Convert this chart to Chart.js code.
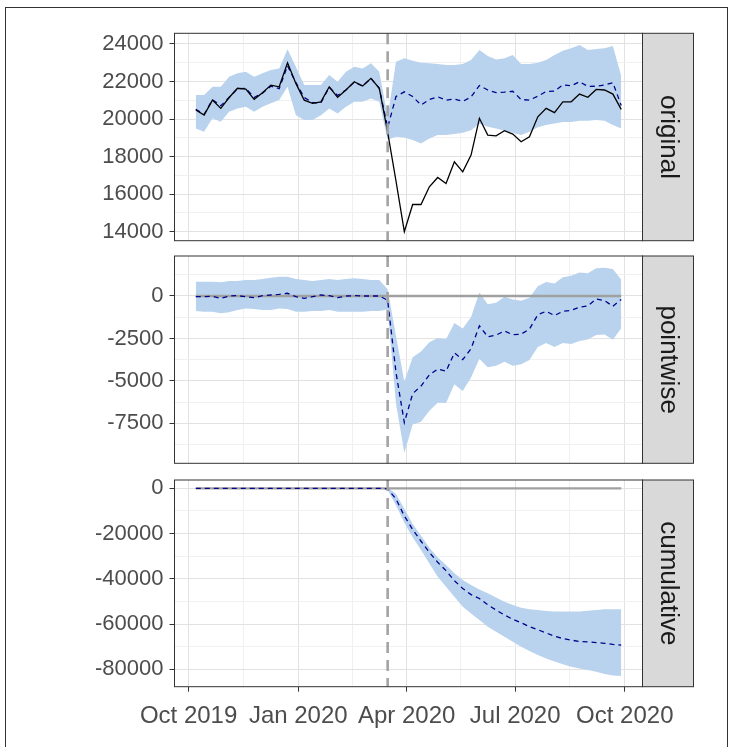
<!DOCTYPE html>
<html>
<head>
<meta charset="utf-8">
<script src="https://cdn.jsdelivr.net/npm/chart.js@4.4.1/dist/chart.umd.min.js"></script>
<style>
body { margin: 0; background: #fff; }
#frame { position: absolute; left: 5px; top: 7px; width: 723px; height: 770px; border: 1px solid #333; box-sizing: border-box; }
.panel { position: absolute; left: 0; width: 733px; }
</style>
</head>
<body>
<div id="frame"></div>
<div class="panel" style="top:0;height:250px"><canvas id="c1" width="733" height="250"></canvas></div>
<div class="panel" style="top:250px;height:220px"><canvas id="c2" width="733" height="220"></canvas></div>
<div class="panel" style="top:470px;height:277px"><canvas id="c3" width="733" height="277"></canvas></div>
<script>
// weekly series, first week starts 2019-10-07
var weekStart = '2019-10-07';
var intervention = '2020-03-16';

var observed = [20480, 20210, 21010, 20570, 21150, 21640, 21600, 21050, 21400, 21810, 21720, 23000,
	21900, 21010, 20840, 20920, 21720, 21160, 21550, 21990, 21760, 22170, 21640,
	19300, 16700, 14000, 15450, 15450, 16390, 16890, 16570, 17720, 17190, 18080, 20040, 19150,
	19110, 19380, 19200, 18790, 19060, 20120, 20570, 20340, 20920, 20920, 21330, 21160, 21580,
	21550, 21330, 20520];
var predicted = [20520, 20250, 21030, 20710, 21150, 21620, 21640, 21150, 21380, 21750, 21620, 22840,
	21940, 21150, 20880, 20860, 21700, 21260, 21550, 21970, 21760, 22170, 21640,
	19550, 21200, 21450, 21200, 20750, 21040, 21190, 21000, 21070, 20940, 21180, 21790, 21550,
	21410, 21440, 21480, 21040, 21010, 21220, 21470, 21490, 21820, 21770, 21990, 21740, 21750,
	21820, 21940, 20720];
var predLower = [19500, 19320, 20040, 19860, 20390, 20570, 20660, 20390, 20660, 20840, 21010, 21720,
	20210, 19950, 19950, 20210, 20570, 20300, 20660, 20920, 20920, 21100, 20920,
	18900, 19060, 19020, 18880, 18700, 18970, 19150, 19150, 19200, 19270, 19410, 19770, 19590,
	19500, 19380, 19270, 19150, 19320, 19560, 19680, 19770, 19840, 19840, 19910, 19910, 19950,
	19910, 19680, 19500];
var predUpper = [21280, 21280, 21720, 21720, 22260, 22440, 22520, 22260, 22440, 22610, 22700, 23720,
	22790, 21810, 21810, 21810, 22350, 21990, 22520, 22790, 22700, 22970, 22520,
	20100, 23060, 23240, 23110, 23000, 22970, 22940, 22880, 22880, 22940, 23150, 23680, 23360,
	23180, 23240, 23410, 22930, 22930, 23000, 23150, 23410, 23640, 23770, 23950, 23680, 23730,
	23770, 23890, 22300];

var pointEffect = [-40, -40, -20, -140, 0, 20, -40, -100, 20, 60, 100, 160,
	-40, -140, -40, 60, 20, -100, 0, 20, 0, 0, 0,
	-250, -4500, -7450, -5750, -5300, -4650, -4300, -4430, -3350, -3750, -3100, -1750, -2400,
	-2300, -2060, -2280, -2250, -1950, -1100, -900, -1150, -900, -850, -660, -580, -170,
	-270, -610, -200];
var pointLower = [-880, -920, -920, -1020, -960, -830, -730, -760, -830, -830, -730, -760,
	-920, -920, -880, -880, -830, -920, -920, -920, -920, -880, -880,
	-800, -6350, -9250, -7570, -7400, -6750, -6280, -6300, -5200, -5600, -4800, -3700, -4190,
	-4110, -3870, -4100, -4020, -3770, -3010, -2760, -3010, -2770, -2820, -2650, -2560, -2300,
	-2260, -2580, -1900];
var pointUpper = [840, 840, 840, 810, 880, 880, 940, 940, 1000, 1080, 1140, 1140,
	1000, 940, 880, 940, 1000, 940, 1000, 1040, 1000, 940, 940,
	400, -2350, -5030, -3600, -3270, -2730, -2470, -2540, -1590, -1910, -1230, 200, -490,
	-400, -40, -200, -280, -100, 580, 820, 730, 1110, 1190, 1380, 1340, 1630,
	1660, 1590, 950];

var cumEffect = [0, 0, 0, 0, 0, 0, 0, 0, 0, 0, 0, 0, 0, 0, 0, 0, 0, 0, 0, 0, 0, 0, 0,
	-250, -4750, -12200, -18200, -23400, -28300, -32700, -36400, -40800, -44300, -47000, -48700, -51500,
	-53800, -56000, -57900, -59400, -61200, -62500, -63900, -65400, -66400, -67100, -67700, -67900, -68200,
	-68500, -69000, -69300];
var cumLower = [0, 0, 0, 0, 0, 0, 0, 0, 0, 0, 0, 0, 0, 0, 0, 0, 0, 0, 0, 0, 0, 0, 0,
	-800, -7500, -15200, -21600, -27300, -33200, -39100, -43500, -47900, -52300, -55300, -58200, -61200,
	-63400, -65600, -67800, -70000, -71900, -73700, -75200, -76600, -77800, -78900, -79700, -80300, -81100,
	-82100, -82700, -83000];
var cumUpper = [0, 0, 0, 0, 0, 0, 0, 0, 0, 0, 0, 0, 0, 0, 0, 0, 0, 0, 0, 0, 0, 0, 0,
	400, -2500, -9000, -15800, -21000, -26300, -30500, -33900, -37600, -40500, -42700, -44700, -46400,
	-48300, -50100, -51600, -52800, -53500, -53800, -54200, -54500, -54500, -54500, -54400, -54100, -53800,
	-53500, -53500, -53500];

var xTickDates = ['2019-10-01', '2020-01-01', '2020-04-01', '2020-07-01', '2020-10-01'];
var xTickLabels = ['Oct 2019', 'Jan 2020', 'Apr 2020', 'Jul 2020', 'Oct 2020'];
var panelNames = ['original', 'pointwise', 'cumulative'];

var yTicksOrig = [14000, 16000, 18000, 20000, 22000, 24000];
var yTicksPoint = [-7500, -5000, -2500, 0];
var yTicksCum = [-80000, -60000, -40000, -20000, 0];

// ---------------------------------------------------------------
var DAY = 86400000;
var t0 = Date.parse('2019-10-01');
function dayOf(s) { return (Date.parse(s) - t0) / DAY; }

var firstDay = dayOf(weekStart);
var weekDays = observed.map(function (v, i) { return firstDay + 7 * i; });
var xPad = 0.05 * (weekDays[weekDays.length - 1] - weekDays[0]);
var xMin = weekDays[0] - xPad, xMax = weekDays[weekDays.length - 1] + xPad;

var xMajor = xTickDates.map(dayOf);
var xMinor = minorsOf(xMajor);

function minorsOf(major) {
	var out = [];
	for (var k = 0; k < major.length - 1; k++) out.push((major[k] + major[k + 1]) / 2);
	return out;
}

function pts(arr) {
	return arr.map(function (v, i) { return { x: weekDays[i], y: v }; });
}

var yFont = { family: "'Liberation Sans', Arial, sans-serif", size: 22 };
var xFont = { family: "'Liberation Sans', Arial, sans-serif", size: 24 };
var bandColor = '#B9D3EE';
var navy = '#00008B';

function gridOpts(majorSet, drawTicks) {
	return {
		color: function (c) { return majorSet.has(c.tick.value) ? '#e2e2e2' : '#f0f0f0'; },
		lineWidth: 1,
		drawTicks: drawTicks,
		tickLength: 5,
		tickWidth: 1,
		tickColor: function (c) { return majorSet.has(c.tick.value) ? '#333333' : 'rgba(0,0,0,0)'; }
	};
}

function xScale(showLabels, height) {
	var majorSet = new Set(xMajor);
	var all = xMajor.concat(xMinor).sort(function (a, b) { return a - b; });
	return {
		type: 'linear', min: xMin, max: xMax,
		afterBuildTicks: function (s) { s.ticks = all.map(function (v) { return { value: v }; }); },
		afterFit: function (s) {
			s.height = height;
			s.paddingLeft = 0; s.paddingRight = 0; s.paddingTop = 0; s.paddingBottom = 0;
		},
		ticks: {
			display: showLabels, autoSkip: false, maxRotation: 0, padding: 10,
			color: '#4d4d4d', font: xFont,
			callback: function (v) { var j = xMajor.indexOf(v); return j >= 0 ? xTickLabels[j] : ''; }
		},
		grid: gridOpts(majorSet, showLabels),
		border: { display: false }
	};
}

function yScale(min, max, major) {
	var majorSet = new Set(major);
	var all = major.concat(minorsOf(major));
	// ggplot also puts minor breaks just outside the outer majors
	var step = major[1] - major[0];
	if (major[0] - step / 2 > min) all.push(major[0] - step / 2);
	if (major[major.length - 1] + step / 2 < max) all.push(major[major.length - 1] + step / 2);
	all.sort(function (a, b) { return a - b; });
	return {
		type: 'linear', min: min, max: max,
		afterBuildTicks: function (s) { s.ticks = all.map(function (v) { return { value: v }; }); },
		afterFit: function (s) {
			s.width = 174.5;
			s.paddingTop = 0; s.paddingBottom = 0; s.paddingLeft = 0; s.paddingRight = 0;
		},
		ticks: {
			autoSkip: false, padding: 6, color: '#4d4d4d', font: yFont,
			callback: function (v) { return majorSet.has(v) ? String(v) : ''; }
		},
		grid: gridOpts(majorSet, true),
		border: { display: false }
	};
}

function decor(label) {
	return {
		id: 'decor',
		afterDatasetsDraw: function (chart) {
			var ctx = chart.ctx, a = chart.chartArea;
			var xv = chart.scales.x.getPixelForValue(dayOf(intervention));
			ctx.save();
			ctx.strokeStyle = '#a3a3a3';
			ctx.lineWidth = 2.6;
			ctx.setLineDash([11, 7]);
			ctx.beginPath();
			ctx.moveTo(xv, a.top);
			ctx.lineTo(xv, a.bottom);
			ctx.stroke();
			ctx.restore();
		},
		afterDraw: function (chart) {
			var ctx = chart.ctx, a = chart.chartArea;
			ctx.save();
			// facet strip on the right
			ctx.fillStyle = '#D9D9D9';
			ctx.fillRect(a.right, a.top, 51, a.bottom - a.top);
			ctx.strokeStyle = '#333333';
			ctx.lineWidth = 1;
			ctx.strokeRect(a.right, a.top, 51, a.bottom - a.top);
			ctx.strokeRect(a.left, a.top, a.right - a.left, a.bottom - a.top);
			ctx.translate(a.right + 25.5, (a.top + a.bottom) / 2);
			ctx.rotate(Math.PI / 2);
			ctx.fillStyle = '#1a1a1a';
			ctx.font = "26px 'Liberation Sans', Arial, sans-serif";
			ctx.textAlign = 'center';
			ctx.textBaseline = 'middle';
			ctx.fillText(label, 0, 0);
			ctx.restore();
		}
	};
}

function bandSets(lower, upper) {
	return [
		{ data: pts(lower), borderWidth: 0, borderColor: 'rgba(0,0,0,0)', pointRadius: 0, fill: false },
		{ data: pts(upper), borderWidth: 0, borderColor: 'rgba(0,0,0,0)', pointRadius: 0, fill: '-1', backgroundColor: bandColor }
	];
}

function dashedMean(arr) {
	return { data: pts(arr), borderColor: navy, borderWidth: 1.3, borderDash: [5, 4], pointRadius: 0, fill: false };
}

function zeroLine() {
	return { data: weekDays.map(function (d) { return { x: d, y: 0 }; }), borderColor: '#a0a0a0', borderWidth: 2.3, pointRadius: 0, fill: false };
}

function makeChart(id, datasets, yOpts, xOpts, padTop, label) {
	return new Chart(document.getElementById(id), {
		type: 'line',
		data: { datasets: datasets },
		options: {
			responsive: false,
			animation: false,
			devicePixelRatio: 1,
			layout: { padding: { top: padTop, right: 90.5, bottom: 0, left: 0 } },
			plugins: { legend: { display: false }, tooltip: { enabled: false } },
			scales: { x: xOpts, y: yOpts }
		},
		plugins: [decor(label)]
	});
}

makeChart('c1',
	[{ data: pts(observed), borderColor: '#000000', borderWidth: 1.3, pointRadius: 0, fill: false },
	 dashedMean(predicted)].concat(bandSets(predLower, predUpper)),
	yScale(13520, 24570, yTicksOrig), xScale(false, 9.3), 33.3, panelNames[0]);

makeChart('c2',
	[dashedMean(pointEffect), zeroLine()].concat(bandSets(pointLower, pointUpper)),
	yScale(-9850, 2355, yTicksPoint), xScale(false, 6.7), 6, panelNames[1]);

makeChart('c3',
	[dashedMean(cumEffect), zeroLine()].concat(bandSets(cumLower, cumUpper)),
	yScale(-87690, 3670, yTicksCum), xScale(true, 60.3), 10, panelNames[2]);
</script>
</body>
</html>
